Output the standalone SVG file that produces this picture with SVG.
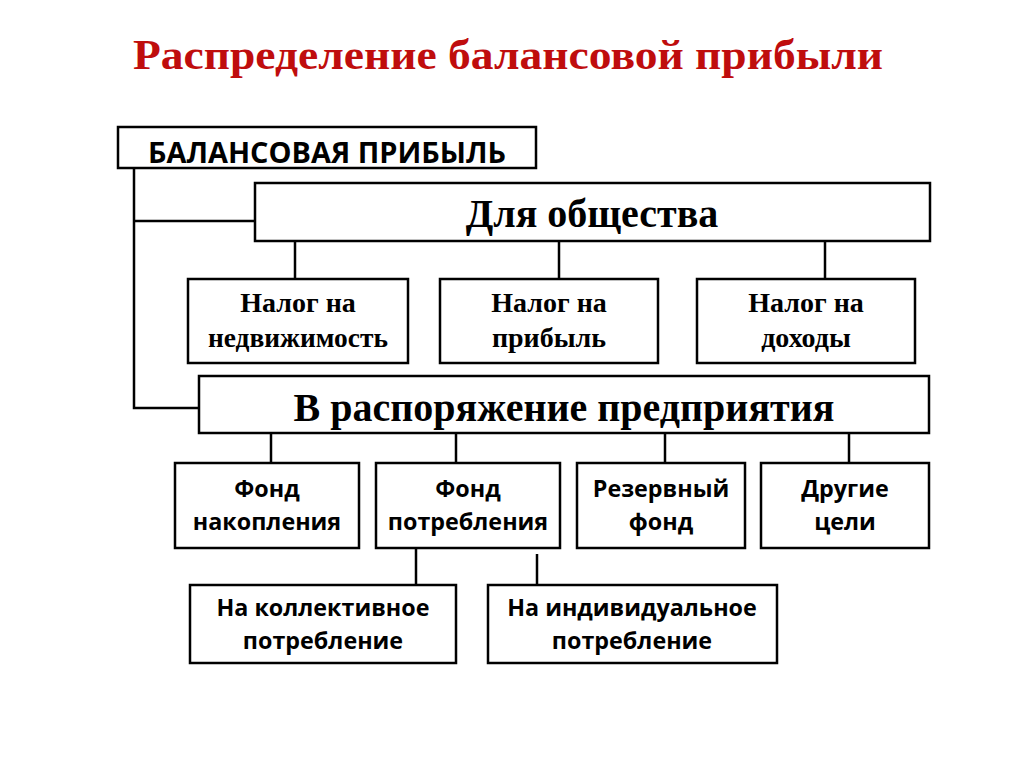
<svg xmlns="http://www.w3.org/2000/svg" width="1024" height="767" viewBox="0 0 1024 767">
<style>
.box{fill:#fff;stroke:#000;stroke-width:2.5}
.ln{stroke:#000;stroke-width:2.5;fill:none}
.serif{font-family:"Liberation Serif","Times New Roman",serif;font-weight:bold;fill:#000;text-anchor:middle}
.sans{font-family:"Open Sans","Liberation Sans",sans-serif;font-weight:bold;fill:#000;text-anchor:middle}
.t2{font-size:28px}
.t3{font-size:23.3px}
.big{font-size:40px}
</style>
<rect width="1024" height="767" fill="#fff"/>
<text x="508" y="69" font-family="Liberation Serif,'Times New Roman',serif" font-weight="bold" font-size="42" fill="#BF0D0D" text-anchor="middle" textLength="750" lengthAdjust="spacingAndGlyphs">Распределение балансовой прибыли</text>

<g id="connectors">
<polyline class="ln" points="134,168 134,408 199,408"/>
<line class="ln" x1="134" y1="221" x2="255" y2="221"/>
<line class="ln" x1="295" y1="241" x2="295" y2="278"/>
<line class="ln" x1="559" y1="241" x2="559" y2="278"/>
<line class="ln" x1="825" y1="241" x2="825" y2="278"/>
<line class="ln" x1="271" y1="433" x2="271" y2="463"/>
<line class="ln" x1="456" y1="433" x2="456" y2="463"/>
<line class="ln" x1="665" y1="433" x2="665" y2="463"/>
<line class="ln" x1="849" y1="433" x2="849" y2="463"/>
<line class="ln" x1="416" y1="548" x2="416" y2="585"/>
<line class="ln" x1="537" y1="554" x2="537" y2="585"/>
</g>

<g id="balance">
<rect class="box" x="118" y="127" width="418" height="41"/>
<text class="sans" x="327" y="163" font-size="28" textLength="358" lengthAdjust="spacingAndGlyphs">БАЛАНСОВАЯ ПРИБЫЛЬ</text>
</g>

<g id="society">
<rect class="box" x="255" y="183" width="675" height="58"/>
<text class="serif big" x="592" y="227">Для общества</text>
</g>

<g id="tax1">
<rect class="box" x="188" y="279" width="220" height="84"/>
<text class="serif t2" x="298" y="312">Налог на</text>
<text class="serif t2" x="298" y="347" textLength="180" lengthAdjust="spacingAndGlyphs">недвижимость</text>
</g>
<g id="tax2">
<rect class="box" x="440" y="279" width="218" height="84"/>
<text class="serif t2" x="549" y="312">Налог на</text>
<text class="serif t2" x="549" y="347">прибыль</text>
</g>
<g id="tax3">
<rect class="box" x="697" y="279" width="218" height="84"/>
<text class="serif t2" x="806" y="312">Налог на</text>
<text class="serif t2" x="806" y="347">доходы</text>
</g>

<g id="enterprise">
<rect class="box" x="199" y="376" width="730" height="57"/>
<text class="serif big" x="564" y="421">В распоряжение предприятия</text>
</g>

<g id="fund1">
<rect class="box" x="175" y="463" width="184" height="85"/>
<text class="sans t3" x="267" y="497">Фонд</text>
<text class="sans t3" x="267" y="530">накопления</text>
</g>
<g id="fund2">
<rect class="box" x="376" y="463" width="184" height="85"/>
<text class="sans t3" x="468" y="497">Фонд</text>
<text class="sans t3" x="468" y="530">потребления</text>
</g>
<g id="fund3">
<rect class="box" x="577" y="463" width="168" height="85"/>
<text class="sans t3" x="661" y="497">Резервный</text>
<text class="sans t3" x="661" y="530">фонд</text>
</g>
<g id="fund4">
<rect class="box" x="761" y="463" width="168" height="85"/>
<text class="sans t3" x="845" y="497">Другие</text>
<text class="sans t3" x="845" y="530">цели</text>
</g>

<g id="collective">
<rect class="box" x="190" y="585" width="266" height="78"/>
<text class="sans t3" x="323" y="616">На коллективное</text>
<text class="sans t3" x="323" y="649">потребление</text>
</g>
<g id="individual">
<rect class="box" x="488" y="585" width="289" height="78"/>
<text class="sans t3" x="632" y="616">На индивидуальное</text>
<text class="sans t3" x="632" y="649">потребление</text>
</g>
</svg>
